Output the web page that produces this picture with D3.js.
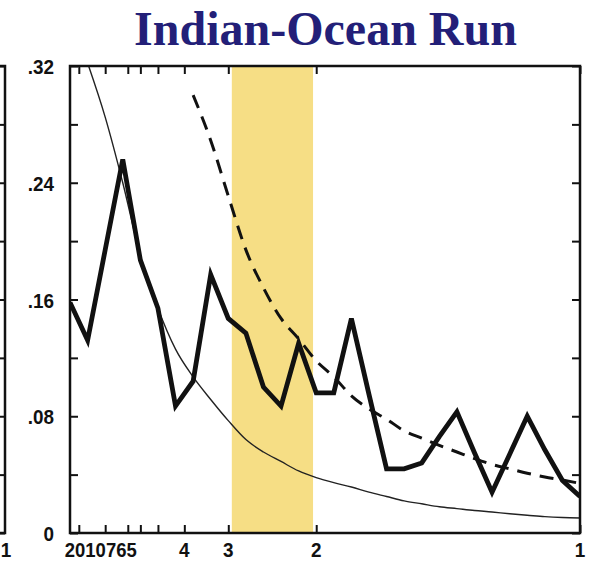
<!DOCTYPE html>
<html>
<head>
<meta charset="utf-8">
<script src="https://d3js.org/d3.v7.min.js"></script>
<style>
    body { margin: 0; background: #fff; }
    .lbl { font-family: "Liberation Sans", Arial, sans-serif; font-weight: bold; font-size: 21px; fill: #111; }
    .tick line { stroke: #111; stroke-width: 2px; }
</style>
</head>
<body>
<div id="viz"></div>
<script>
    // spectral frequencies (cycles per year) and the estimates
    var freq = [0.0333, 0.0667, 0.1, 0.1333, 0.1667, 0.2, 0.2333, 0.2667, 0.3, 0.3333,
                0.3667, 0.4, 0.4333, 0.4667, 0.5, 0.5333, 0.5667, 0.6, 0.6333, 0.6667,
                0.7, 0.7333, 0.7667, 0.8, 0.8333, 0.8667, 0.9, 0.9333, 0.9667, 1.0];
    var spectrum = [0.158, 0.132, 0.194, 0.256, 0.187, 0.154, 0.087, 0.104, 0.177, 0.147,
                    0.137, 0.100, 0.087, 0.130, 0.096, 0.096, 0.147, 0.095, 0.044, 0.044,
                    0.048, 0.066, 0.083, 0.055, 0.028, 0.054, 0.080, 0.057, 0.036, 0.025];
    var signif = [null, null, null, null, null, null, null, 0.300, 0.269, 0.231,
                  0.194, 0.168, 0.147, 0.133, 0.118, 0.107, 0.094, 0.085, 0.078, 0.070,
                  0.065, 0.060, 0.0555, 0.051, 0.047, 0.044, 0.041, 0.0384, 0.0363, 0.034];
    var background = [0.355, 0.322, 0.285, 0.240, 0.190, 0.154, 0.126, 0.107, 0.0915, 0.077,
                      0.064, 0.0555, 0.049, 0.0425, 0.038, 0.0345, 0.0315, 0.028, 0.025, 0.022,
                      0.020, 0.018, 0.0167, 0.0154, 0.0144, 0.0132, 0.0122, 0.0112, 0.0106, 0.0103];
    var periodTicks = [20, 10, 7, 6, 5, 4, 3, 2, 1];
    var powerLabels = [0, 0.08, 0.16, 0.24, 0.32];
    var powerTicks = [0, 0.04, 0.08, 0.12, 0.16, 0.20, 0.24, 0.28, 0.32];
    var bandFreq = [0.34, 0.494];
    var title = "Indian-Ocean Run";

    var W = 590, H = 563;
    var plotL = 70, plotR = 580, plotT = 66, plotB = 533;
    var labelY = 557;

    var x = d3.scaleLinear().domain([freq[0], freq[freq.length - 1]]).range([plotL, plotR]);
    var y = d3.scaleLinear().domain([0, 0.32]).range([plotB, plotT]);

    var svg = d3.select("#viz").append("svg")
        .attr("width", W).attr("height", H);

    svg.append("clipPath").attr("id", "plotclip")
        .append("rect")
        .attr("x", plotL).attr("y", plotT)
        .attr("width", plotR - plotL).attr("height", plotB - plotT);

    // title
    svg.append("text")
        .attr("x", 325.5).attr("y", 45)
        .attr("text-anchor", "middle")
        .style("font-family", "'Liberation Serif', 'Times New Roman', serif")
        .style("font-weight", "bold")
        .style("font-size", "48px")
        .style("fill", "#231f78")
        .text(title);

    // shaded 2-3 yr band
    svg.append("rect")
        .attr("x", x(bandFreq[0])).attr("y", plotT)
        .attr("width", x(bandFreq[1]) - x(bandFreq[0]))
        .attr("height", plotB - plotT)
        .style("fill", "#f6de85");

    var g = svg.append("g").attr("clip-path", "url(#plotclip)");
    var pts = function(vals){
        return freq.map(function(f, i){ return [f, vals[i]]; });
    };

    g.append("path")
        .datum(pts(background))
        .attr("d", d3.line().curve(d3.curveMonotoneX)
            .x(function(d){ return x(d[0]); })
            .y(function(d){ return y(d[1]); }))
        .style("fill", "none").style("stroke", "#222").style("stroke-width", 1.4);

    g.append("path")
        .datum(pts(signif))
        .attr("d", d3.line().curve(d3.curveMonotoneX)
            .defined(function(d){ return d[1] != null; })
            .x(function(d){ return x(d[0]); })
            .y(function(d){ return y(d[1]); }))
        .style("fill", "none").style("stroke", "#111").style("stroke-width", 3)
        .style("stroke-dasharray", "14,9");

    g.append("path")
        .datum(pts(spectrum))
        .attr("d", d3.line()
            .x(function(d){ return x(d[0]); })
            .y(function(d){ return y(d[1]); }))
        .style("fill", "none").style("stroke", "#111").style("stroke-width", 4.8)
        .style("stroke-linejoin", "miter");

    // inward ticks on all four sides
    var fTicks = periodTicks.map(function(p){ return 1 / p; });
    svg.append("g").attr("transform", "translate(0," + plotB + ")")
        .call(d3.axisBottom(x).tickValues(fTicks).tickSize(-8).tickFormat(""))
        .select(".domain").remove();
    svg.append("g").attr("transform", "translate(0," + plotT + ")")
        .call(d3.axisTop(x).tickValues(fTicks).tickSize(-8).tickFormat(""))
        .select(".domain").remove();
    svg.append("g").attr("transform", "translate(" + plotL + ",0)")
        .call(d3.axisLeft(y).tickValues(powerTicks).tickSize(-8).tickFormat(""))
        .select(".domain").remove();
    svg.append("g").attr("transform", "translate(" + plotR + ",0)")
        .call(d3.axisRight(y).tickValues(powerTicks).tickSize(-8).tickFormat(""))
        .select(".domain").remove();

    svg.append("rect")
        .attr("x", plotL).attr("y", plotT)
        .attr("width", plotR - plotL).attr("height", plotB - plotT)
        .style("fill", "none").style("stroke", "#111").style("stroke-width", 2.5);

    // edge of the neighbouring panel on the left
    svg.append("rect")
        .attr("x", -40).attr("y", plotT)
        .attr("width", 45).attr("height", plotB - plotT)
        .style("fill", "none").style("stroke", "#111").style("stroke-width", 2.5);
    svg.append("g").attr("transform", "translate(5,0)")
        .call(d3.axisLeft(y).tickValues(powerTicks).tickSize(6).tickFormat(""))
        .select(".domain").remove();

    // y labels
    svg.selectAll("text.ylab")
        .data(powerLabels).enter()
        .append("text").attr("class", "lbl ylab")
        .attr("text-anchor", "end")
        .attr("transform", function(d){ return "translate(54," + (y(d) + 8) + ") scale(0.9,1)"; })
        .text(function(d){ return d === 0 ? "0" : d3.format(".2f")(d).replace(/^0/, ""); });

    // x labels: the crowded low-frequency ones run together as in the original
    var crowded = periodTicks.slice(0, 5);
    svg.append("text").attr("class", "lbl")
        .attr("transform", "translate(" + (x(1 / crowded[0]) - 14) + "," + labelY + ") scale(0.88,1)")
        .text(crowded.join(""));
    svg.selectAll("text.xlab")
        .data(periodTicks.slice(5)).enter()
        .append("text").attr("class", "lbl xlab")
        .attr("text-anchor", "middle")
        .attr("transform", function(d){ return "translate(" + x(1 / d) + "," + labelY + ") scale(0.9,1)"; })
        .text(function(d){ return d; });

    // neighbouring panel's last x label
    svg.append("text").attr("class", "lbl")
        .attr("text-anchor", "middle")
        .attr("transform", "translate(6," + labelY + ") scale(0.9,1)")
        .text(periodTicks[periodTicks.length - 1]);
</script>
</body>
</html>
